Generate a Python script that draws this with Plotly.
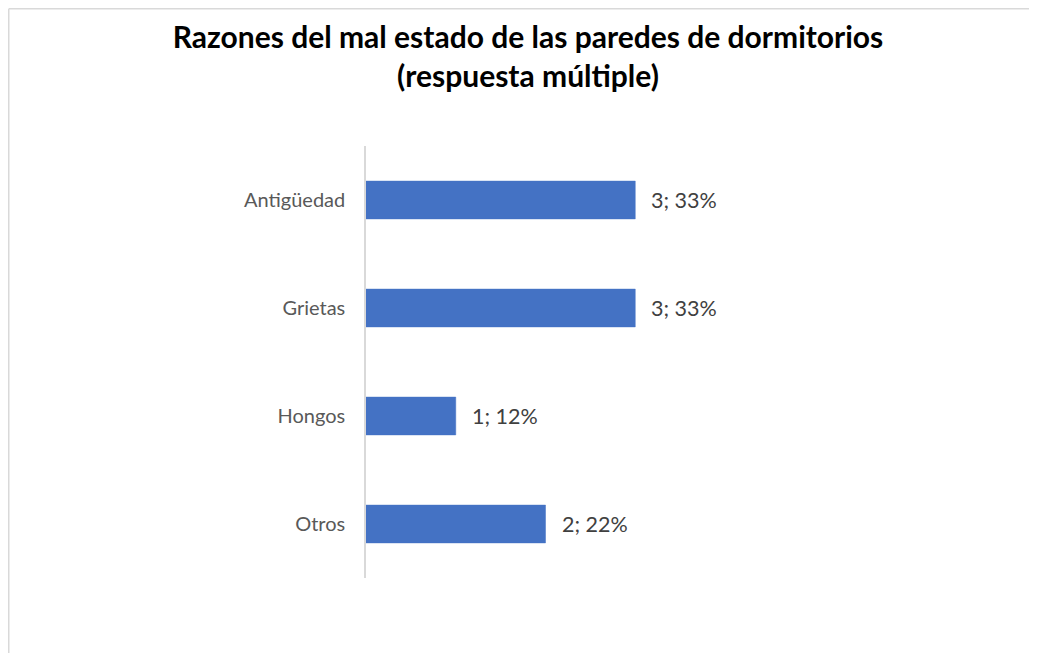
import plotly.graph_objects as go

categories = ["Antigüedad", "Grietas", "Hongos", "Otros"]
counts = [3, 3, 1, 2]
percents = ["33%", "33%", "12%", "22%"]
labels = [f"{c}; {p}" for c, p in zip(counts, percents)]

# page body has an 8px margin; figure coordinates = page coordinates - 8
OFF = 8
W, H = 1037 - OFF, 653 - OFF
L, R = 366 - OFF, 725 - OFF
T, B = 146 - OFF, 578 - OFF
XMAX = 4

fig = go.Figure()
fig.add_trace(go.Bar(
    y=categories, x=counts, orientation="h",
    marker=dict(color="#4472C4", line=dict(color="#4472C4", width=0.5)),
    hoverinfo="skip",
))

for cat, val, lab in zip(categories, counts, labels):
    fig.add_annotation(x=val, y=cat, xref="x", yref="y", text=lab,
                       showarrow=False, xanchor="left", xshift=14,
                       font=dict(family="Lato", size=21.5, color="#404040"))

def px2x(px):
    return (px - OFF - L) / (R - L)

def py2y(py):
    return (B - (py - OFF)) / (B - T)

# chart frame (top and left edges visible)
fig.add_shape(type="line", xref="paper", yref="paper",
              x0=px2x(8.75), x1=px2x(1100), y0=py2y(8.75), y1=py2y(8.75),
              line=dict(color="#d9d9d9", width=1.5))
fig.add_shape(type="line", xref="paper", yref="paper",
              x0=px2x(8.75), x1=px2x(8.75), y0=py2y(8.75), y1=py2y(700),
              line=dict(color="#d9d9d9", width=1.5))

fig.update_layout(
    width=W, height=H,
    margin=dict(l=L, r=W - R, t=T, b=H - B, pad=0),
    paper_bgcolor="white", plot_bgcolor="white",
    showlegend=False,
    bargap=0.65,
    title=dict(text="Razones del mal estado de las paredes de dormitorios<br>(respuesta múltiple)",
               x=(528 - OFF) / W, xref="container", xanchor="center",
               y=1 - (47.5 - OFF) / H, yref="container", yanchor="middle",
               font=dict(family="Lato", size=30, color="#000000", weight="bold")),
    xaxis=dict(range=[0, XMAX], visible=False, showgrid=False, zeroline=False),
    yaxis=dict(categoryorder="array", categoryarray=categories, autorange="reversed",
               showline=True, linecolor="#d9d9d9", linewidth=1.5,
               showgrid=False, ticks="", ticklabelstandoff=15,
               tickfont=dict(family="Lato", size=20, color="#595959")),
)

fig.write_html("out.html")
